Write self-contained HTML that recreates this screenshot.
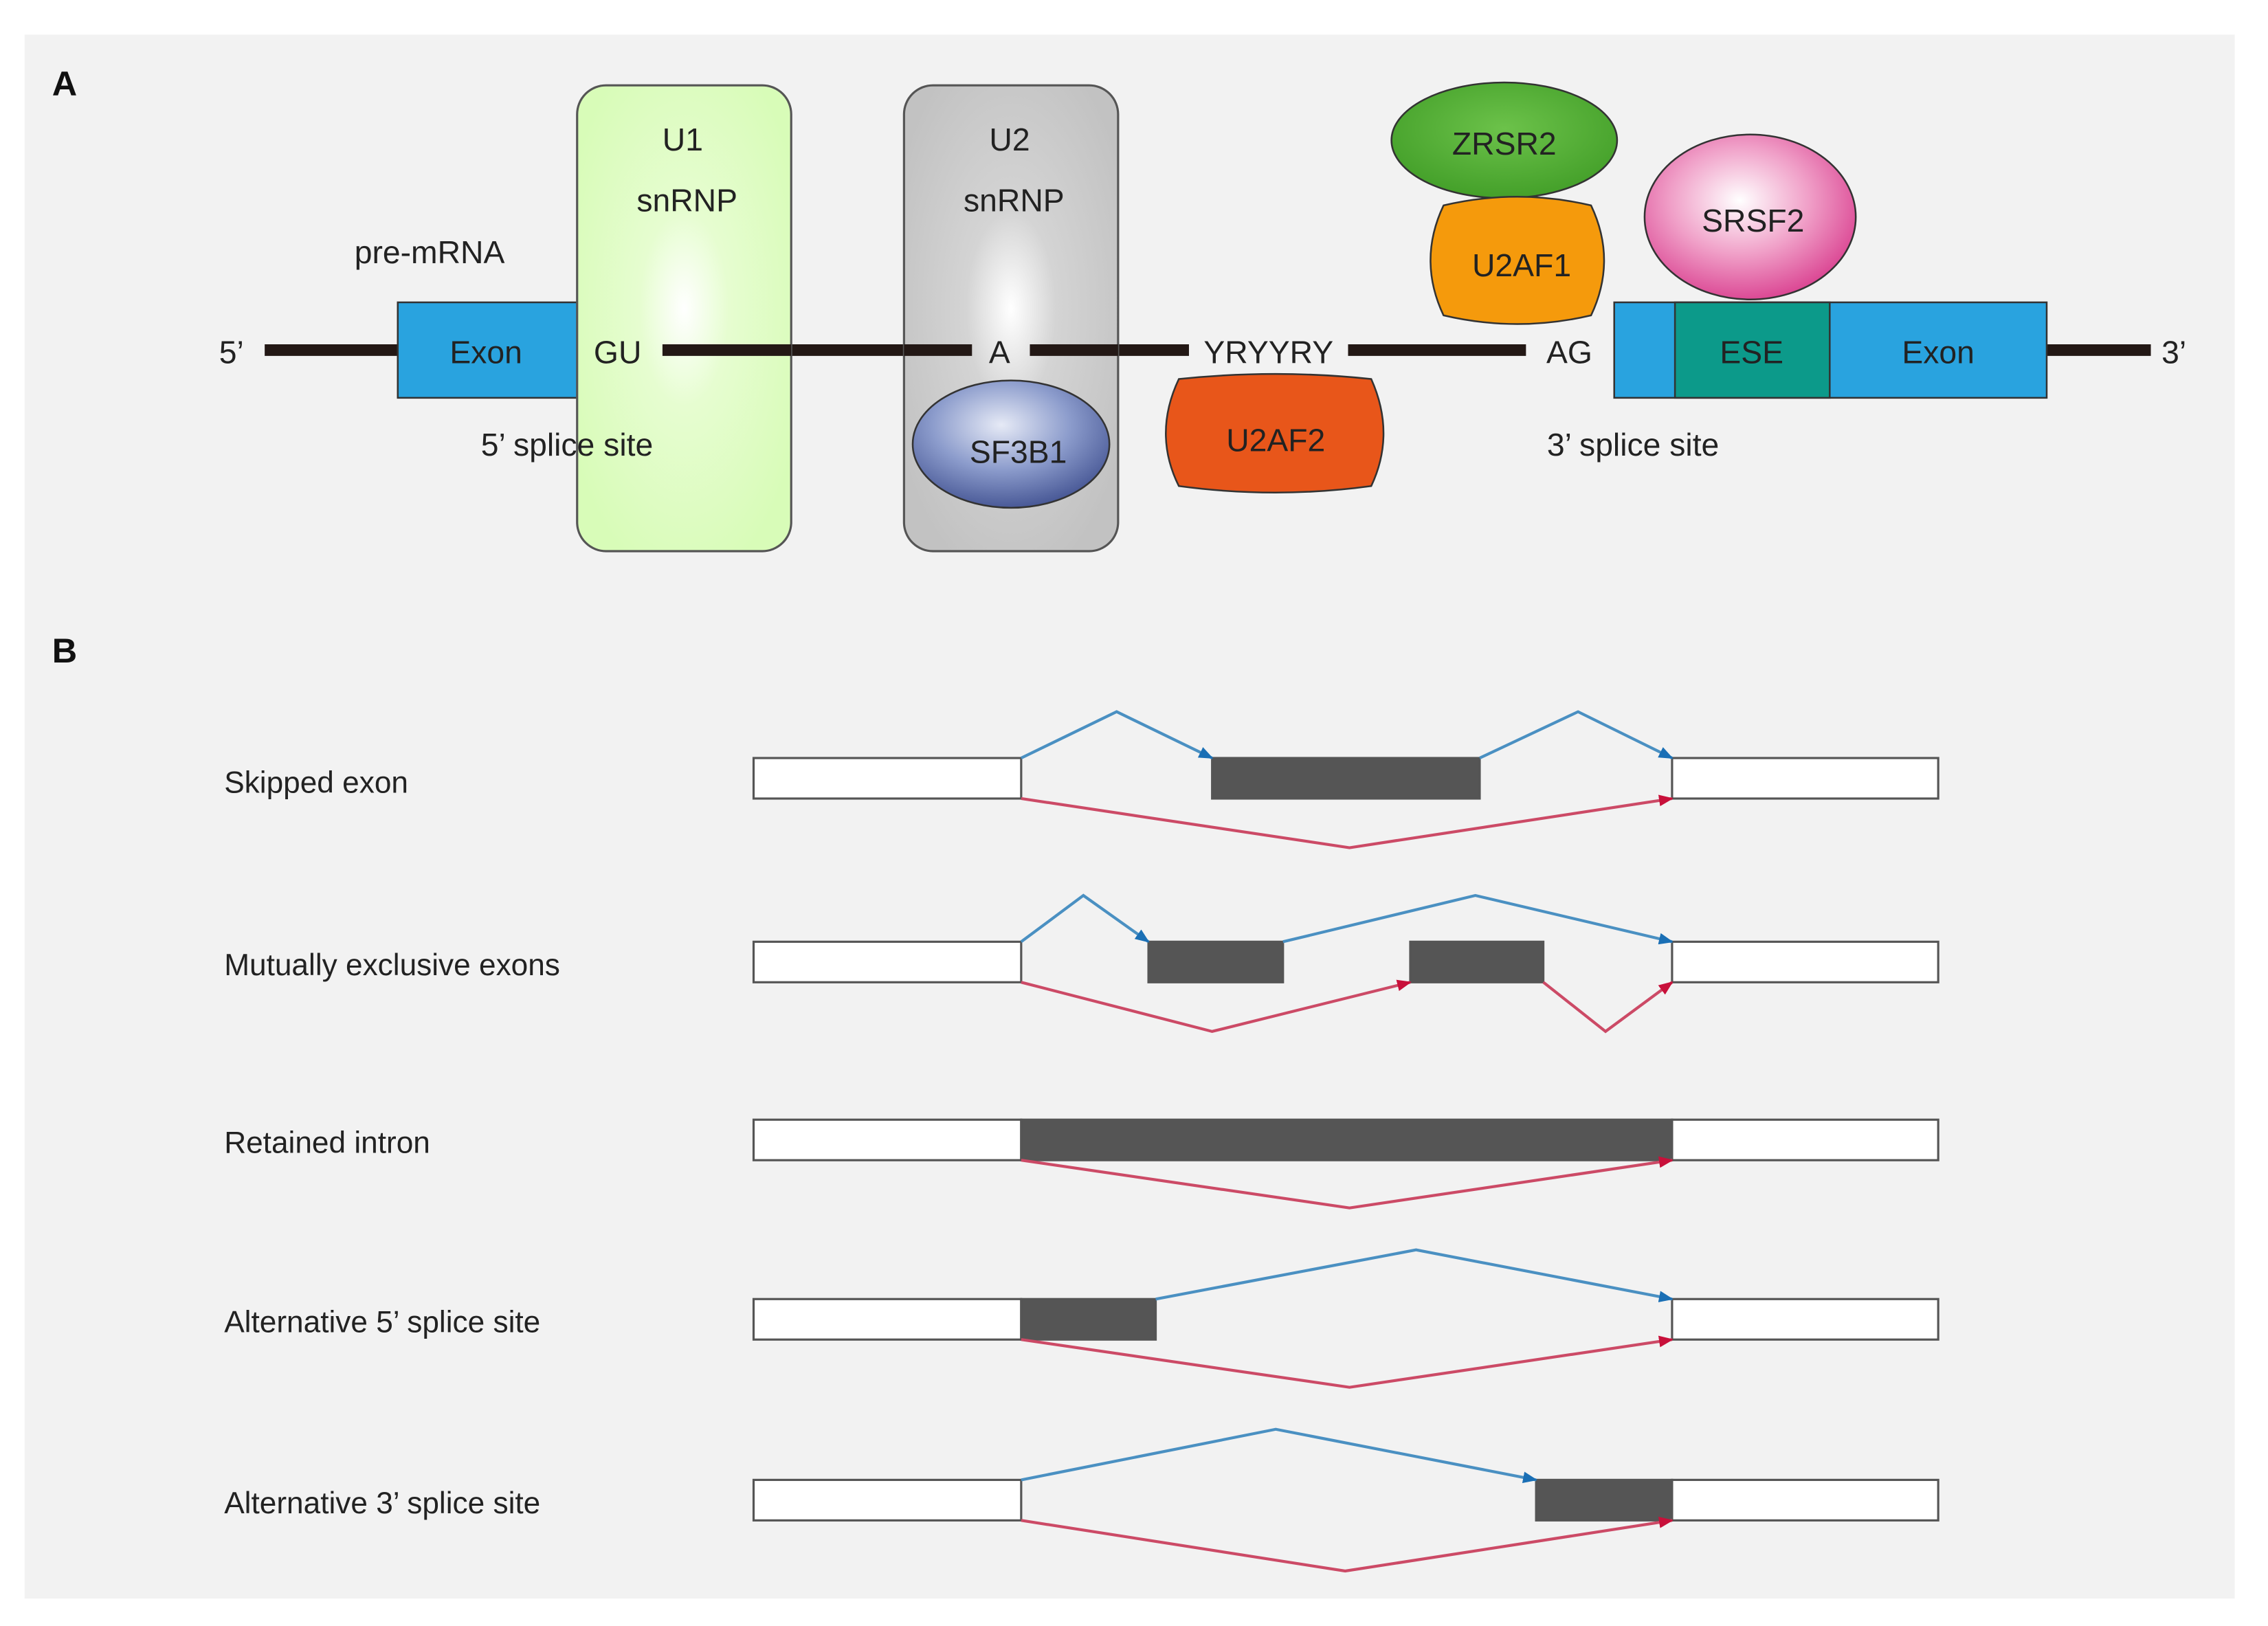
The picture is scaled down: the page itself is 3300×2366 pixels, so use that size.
<!DOCTYPE html>
<html><head><meta charset="utf-8"><style>html,body{margin:0;padding:0;background:#fff}svg{display:block}text{font-family:"Liberation Sans",sans-serif;fill:#222}</style></head>
<body>
<svg width="3300" height="2366" viewBox="0 0 1568 1124" preserveAspectRatio="none" xmlns="http://www.w3.org/2000/svg">
<defs>
<radialGradient id="gU1" cx="0.5" cy="0.48" r="0.6"><stop offset="0" stop-color="#ffffff"/><stop offset="0.35" stop-color="#e6fdd0"/><stop offset="1" stop-color="#d8fcb8"/></radialGradient>
<radialGradient id="gU2" cx="0.5" cy="0.48" r="0.6"><stop offset="0" stop-color="#ffffff"/><stop offset="0.35" stop-color="#d4d4d4"/><stop offset="1" stop-color="#c2c2c2"/></radialGradient>
<radialGradient id="gSF" cx="0.45" cy="0.35" r="0.7"><stop offset="0" stop-color="#e6eaf6"/><stop offset="0.5" stop-color="#8c9ccc"/><stop offset="1" stop-color="#3e4e8e"/></radialGradient>
<radialGradient id="gSR" cx="0.45" cy="0.4" r="0.65"><stop offset="0" stop-color="#ffffff"/><stop offset="0.5" stop-color="#f0a0c8"/><stop offset="1" stop-color="#d83a8c"/></radialGradient>
<radialGradient id="gZ" cx="0.5" cy="0.4" r="0.7"><stop offset="0" stop-color="#6cc24a"/><stop offset="1" stop-color="#3d9a24"/></radialGradient>
<marker id="ab" markerWidth="10" markerHeight="8" refX="9" refY="4" orient="auto" markerUnits="userSpaceOnUse"><path d="M0,0 L10,4 L0,8 Z" fill="#1a6fb5"/></marker>
<marker id="ar" markerWidth="10" markerHeight="8" refX="9" refY="4" orient="auto" markerUnits="userSpaceOnUse"><path d="M0,0 L10,4 L0,8 Z" fill="#c8103a"/></marker>
</defs>
<rect x="17" y="24" width="1528" height="1081" fill="#f2f2f2"/>
<text x="36" y="66" font-size="24" font-weight="bold" style="fill:#111">A</text>
<text x="36" y="458" font-size="24" font-weight="bold" style="fill:#111">B</text>
<g stroke="#231815" stroke-width="8">
<line x1="183" y1="242" x2="276" y2="242"/><line x1="458" y1="242" x2="672" y2="242"/><line x1="712" y1="242" x2="822" y2="242"/><line x1="932" y1="242" x2="1055" y2="242"/><line x1="1414" y1="242" x2="1487" y2="242"/>
</g>
<rect x="275" y="209" width="124" height="66" fill="#29a3df" stroke="#333" stroke-width="1.2"/>
<rect x="399" y="59" width="148" height="322" rx="20" fill="url(#gU1)" stroke="#555" stroke-width="1.5"/>
<rect x="625" y="59" width="148" height="322" rx="20" fill="url(#gU2)" stroke="#555" stroke-width="1.5"/>
<line x1="458" y1="242" x2="547" y2="242" stroke="#231815" stroke-width="8"/>
<line x1="625" y1="242" x2="672" y2="242" stroke="#231815" stroke-width="8"/>
<line x1="712" y1="242" x2="773" y2="242" stroke="#231815" stroke-width="8"/>
<ellipse cx="699" cy="307" rx="68" ry="44" fill="url(#gSF)" stroke="#333" stroke-width="1.2"/>
<path d="M815,262 Q882,255 948,262 Q965,300 948,336 Q882,345 815,336 Q797,300 815,262 Z" fill="#e8561a" stroke="#333" stroke-width="1.2"/>
<ellipse cx="1040" cy="97" rx="78" ry="40" fill="url(#gZ)" stroke="#333" stroke-width="1.2"/>
<path d="M998,142 Q1049,130 1100,142 Q1118,180 1100,218 Q1049,230 998,218 Q980,180 998,142 Z" fill="#f59a0c" stroke="#333" stroke-width="1.2"/>
<ellipse cx="1210" cy="150" rx="73" ry="57" fill="url(#gSR)" stroke="#333" stroke-width="1.2"/>
<rect x="1116" y="209" width="299" height="66" fill="#29a3df" stroke="#333" stroke-width="1.2"/>
<rect x="1158" y="209" width="107" height="66" fill="#0c9a8a" stroke="#333" stroke-width="1.2"/>
<g font-size="22" text-anchor="middle">
<text x="160" y="251">5’</text><text x="1503" y="251">3’</text>
<text x="336" y="251">Exon</text><text x="427" y="251">GU</text>
<text x="472" y="104">U1</text><text x="475" y="146">snRNP</text>
<text x="698" y="104">U2</text><text x="701" y="146">snRNP</text>
<text x="297" y="182">pre-mRNA</text><text x="392" y="315">5’ splice site</text>
<text x="691" y="251">A</text><text x="704" y="320">SF3B1</text>
<text x="877" y="251">YRYYRY</text><text x="882" y="312">U2AF2</text>
<text x="1040" y="107">ZRSR2</text><text x="1052" y="191">U2AF1</text>
<text x="1085" y="251">AG</text><text x="1212" y="160">SRSF2</text>
<text x="1211" y="251">ESE</text><text x="1340" y="251">Exon</text>
<text x="1129" y="315">3’ splice site</text>
</g>
<g font-size="21">
<text x="155" y="548">Skipped exon</text>
<text x="155" y="674">Mutually exclusive exons</text>
<text x="155" y="797">Retained intron</text>
<text x="155" y="921">Alternative 5’ splice site</text>
<text x="155" y="1046">Alternative 3’ splice site</text>
</g>
<g stroke="#555" stroke-width="1.5">
<rect x="521" y="524" width="185" height="28" fill="#fff"/><rect x="1156" y="524" width="184" height="28" fill="#fff"/><rect x="838" y="524" width="185" height="28" fill="#555"/>
<rect x="521" y="651" width="185" height="28" fill="#fff"/><rect x="1156" y="651" width="184" height="28" fill="#fff"/><rect x="794" y="651" width="93" height="28" fill="#555"/><rect x="975" y="651" width="92" height="28" fill="#555"/>
<rect x="521" y="774" width="185" height="28" fill="#fff"/><rect x="1156" y="774" width="184" height="28" fill="#fff"/><rect x="706" y="774" width="450" height="28" fill="#555"/>
<rect x="521" y="898" width="185" height="28" fill="#fff"/><rect x="1156" y="898" width="184" height="28" fill="#fff"/><rect x="706" y="898" width="93" height="28" fill="#555"/>
<rect x="521" y="1023" width="185" height="28" fill="#fff"/><rect x="1156" y="1023" width="184" height="28" fill="#fff"/><rect x="1062" y="1023" width="94" height="28" fill="#555"/>
</g>
<g fill="none" stroke-width="2">
<g stroke="#4a90c2">
<polyline points="706,524 772,492 838,524" marker-end="url(#ab)"/>
<polyline points="1023,524 1091,492 1156,524" marker-end="url(#ab)"/>
<polyline points="706,651 749,619 794,651" marker-end="url(#ab)"/>
<polyline points="887,651 1020,619 1156,651" marker-end="url(#ab)"/>
<polyline points="799,898 979,864 1156,898" marker-end="url(#ab)"/>
<polyline points="706,1023 882,988 1062,1023" marker-end="url(#ab)"/>
</g>
<g stroke="#cc4a66">
<polyline points="706,552 933,586 1156,552" marker-end="url(#ar)"/>
<polyline points="706,679 838,713 975,679" marker-end="url(#ar)"/>
<polyline points="1067,679 1110,713 1156,679" marker-end="url(#ar)"/>
<polyline points="706,802 933,835 1156,802" marker-end="url(#ar)"/>
<polyline points="706,926 933,959 1156,926" marker-end="url(#ar)"/>
<polyline points="706,1051 930,1086 1156,1051" marker-end="url(#ar)"/>
</g>
</g>
</svg>
</body></html>
